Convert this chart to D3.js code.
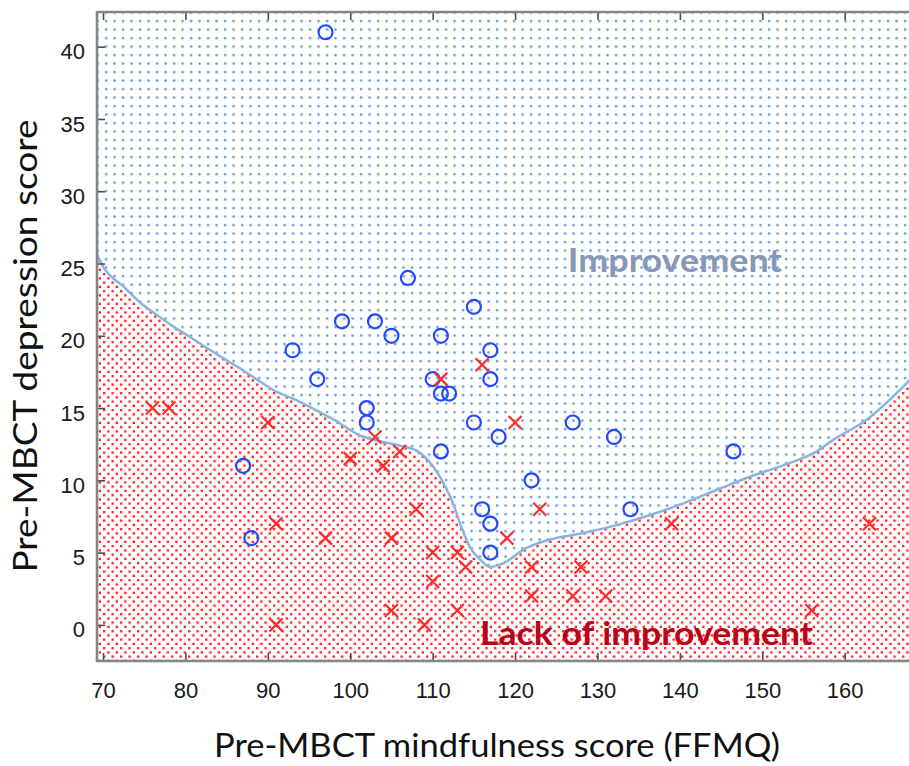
<!DOCTYPE html>
<html>
<head>
<meta charset="utf-8">
<script src="https://cdn.jsdelivr.net/npm/d3@7"></script>
<style>
  html, body { margin: 0; padding: 0; background: #fff; }
  svg { display: block; }
</style>
</head>
<body>
<svg id="chart" width="909" height="766"></svg>
<script>
// pre-MBCT scores
// improved participants (blue circles): [FFMQ, depression]
const improved = [
  [97, 41], [107, 24], [115, 22], [99, 21], [103, 21], [105, 20], [111, 20],
  [93, 19], [117, 19], [96, 17], [110, 17], [117, 17], [111, 16], [112, 16],
  [102, 15], [102, 14], [115, 14], [127, 14], [132, 13], [118, 13], [111, 12],
  [146.5, 12], [87, 11], [122, 10], [116, 8], [134, 8], [117, 7], [88, 6], [117, 5]
]

// not improved (red crosses)
const notImproved = [
  [76, 15], [78, 15], [90, 14], [103, 13], [111, 17], [116, 18], [120, 14],
  [100, 11.5], [106, 12], [104, 11], [91, 7], [97, 6], [105, 6], [108, 8],
  [110, 5], [113, 5], [114, 4], [110, 3], [105, 1], [109, 0], [113, 1], [91, 0],
  [119, 6], [123, 8], [122, 4], [128, 4], [122, 2], [127, 2], [131, 2],
  [139, 7], [163, 7], [156, 1]
]

// classifier decision boundary
const boundary = [
  [69.3, 25.6], [70.0, 24.8], [72.5, 23.4], [74.5, 22.3], [76.5, 21.45],
  [78.5, 20.65], [80.6, 19.9], [82.6, 19.15], [84.6, 18.45], [86.6, 17.75],
  [88.6, 17.0], [90.5, 16.3], [94.0, 15.4], [98.0, 14.2], [101.2, 13.1],
  [103.6, 12.7], [106.0, 12.4], [108.2, 12.0], [110.0, 11.0], [111.3, 9.8],
  [112.3, 8.65], [113.3, 7.05], [114.5, 5.4], [115.8, 4.5], [117.0, 4.0],
  [119.0, 4.4], [121.0, 5.2], [124.2, 5.9], [128.3, 6.35], [132.3, 6.9],
  [136.4, 7.6], [140.4, 8.4], [144.5, 9.35], [148.5, 10.25], [152.6, 11.05],
  [156.6, 12.0], [158.6, 12.8], [162.7, 14.2], [166.7, 16.25], [168.0, 17.0]
]

const xTicks = [70, 80, 90, 100, 110, 120, 130, 140, 150, 160]
const yTicks = [0, 5, 10, 15, 20, 25, 30, 35, 40]

const xTitle = 'Pre-MBCT mindfulness score (FFMQ)'
const yTitle = 'Pre-MBCT depression score'

const plotL = 97, plotT = 12, plotR = 909, plotB = 661

const x = d3.scaleLinear().domain([69.27, 167.8]).range([plotL, plotR])
const y = d3.scaleLinear().domain([-2.5, 42.4]).range([plotB, plotT])

const svg = d3.select('#chart')
const defs = svg.append('defs')

defs.append('clipPath').attr('id', 'plotClip')
  .append('rect')
  .attr('x', plotL).attr('y', plotT)
  .attr('width', plotR - plotL).attr('height', plotB - plotT)

const blueDots = defs.append('pattern')
  .attr('id', 'blueDots')
  .attr('patternUnits', 'userSpaceOnUse')
  .attr('width', 8.5).attr('height', 8.5)
blueDots.append('rect').attr('width', 8.5).attr('height', 8.5).attr('fill', '#fff')
blueDots.append('rect').attr('x', 3).attr('y', 3).attr('width', 2.2).attr('height', 2.2)
  .attr('fill', '#4690d6')

const redDots = defs.append('pattern')
  .attr('id', 'redDots')
  .attr('patternUnits', 'userSpaceOnUse')
  .attr('width', 8.5).attr('height', 8.5)
redDots.append('rect').attr('width', 8.5).attr('height', 8.5).attr('fill', '#fff')
redDots.append('rect').attr('x', 1).attr('y', 1).attr('width', 2.3).attr('height', 2.3)
  .attr('fill', '#ff1414')
redDots.append('rect').attr('x', 5.25).attr('y', 5.25).attr('width', 2.3).attr('height', 2.3)
  .attr('fill', '#ff1414')

const plot = svg.append('g').attr('clip-path', 'url(#plotClip)')

// improvement region: whole plot
plot.append('rect')
  .attr('x', plotL).attr('y', plotT)
  .attr('width', plotR - plotL).attr('height', plotB - plotT)
  .attr('fill', 'url(#blueDots)')

// lack of improvement region: under the boundary
const area = d3.area()
  .x(d => x(d[0]))
  .y0(plotB + 5)
  .y1(d => y(d[1]))
  .curve(d3.curveMonotoneX)

plot.append('path')
  .datum(boundary)
  .attr('d', area)
  .attr('fill', 'url(#redDots)')

const line = d3.line()
  .x(d => x(d[0]))
  .y(d => y(d[1]))
  .curve(d3.curveMonotoneX)

plot.append('path')
  .datum(boundary)
  .attr('d', line)
  .attr('fill', 'none')
  .attr('stroke', '#86b6df')
  .attr('stroke-width', 2.5)

// region labels
svg.append('text')
  .attr('x', x(126.4)).attr('y', y(24.4))
  .attr('font-family', 'Lato, "Open Sans", sans-serif')
  .attr('font-weight', 'bold')
  .attr('font-size', 33)
  .attr('textLength', 214)
  .attr('lengthAdjust', 'spacingAndGlyphs')
  .attr('fill', '#8797b5')
  .text('Improvement')

svg.append('text')
  .attr('x', x(115.75)).attr('y', y(-1.38))
  .attr('font-family', 'Lato, "Open Sans", sans-serif')
  .attr('font-weight', 'bold')
  .attr('font-size', 33)
  .attr('textLength', 333)
  .attr('lengthAdjust', 'spacingAndGlyphs')
  .attr('fill', '#bb0018')
  .text('Lack of improvement')

// markers
plot.append('g')
  .selectAll('circle')
  .data(improved)
  .enter()
  .append('circle')
  .attr('cx', d => x(d[0]))
  .attr('cy', d => y(d[1]))
  .attr('r', 7)
  .attr('fill', 'none')
  .attr('stroke', '#2448ff')
  .attr('stroke-width', 2.2)

const s = 6.5
plot.append('g')
  .selectAll('path')
  .data(notImproved)
  .enter()
  .append('path')
  .attr('d', d => {
    const cx = x(d[0]), cy = y(d[1])
    return `M${cx - s},${cy - s}L${cx + s},${cy + s}M${cx - s},${cy + s}L${cx + s},${cy - s}`
  })
  .attr('stroke', '#ff2a2a')
  .attr('stroke-width', 2.2)
  .attr('fill', 'none')

// axes, ticks pointing inward
const axisFont = '"Liberation Sans", Arial, sans-serif'

const yAxis = svg.append('g')
  .attr('transform', `translate(${plotL},0)`)
  .call(d3.axisLeft(y).tickValues(yTicks).tickSizeInner(-8).tickSizeOuter(0).tickPadding(12))
yAxis.selectAll('text')
  .attr('font-family', axisFont).attr('font-size', 22).attr('fill', '#1a1a1a')
  .attr('transform', 'translate(0,5)')

const xAxis = svg.append('g')
  .attr('transform', `translate(0,${plotB})`)
  .call(d3.axisBottom(x).tickValues(xTicks).tickSizeInner(-8).tickSizeOuter(0).tickPadding(21))
xAxis.selectAll('text')
  .attr('font-family', axisFont).attr('font-size', 22).attr('fill', '#1a1a1a')

const xTop = svg.append('g')
  .attr('transform', `translate(0,${plotT})`)
  .call(d3.axisTop(x).tickValues(xTicks).tickSizeInner(-8).tickSizeOuter(0))
xTop.selectAll('text').remove()

svg.selectAll('.tick line').attr('stroke', '#4d4d4d').attr('stroke-width', 1.6)
svg.selectAll('.domain').remove()

// frame lines
const frame = svg.append('g').attr('stroke', '#858585').attr('stroke-width', 2.6)
frame.append('line').attr('x1', plotL).attr('x2', plotL).attr('y1', plotT - 1).attr('y2', plotB + 1)
frame.append('line').attr('x1', plotL).attr('x2', plotR).attr('y1', plotT).attr('y2', plotT)
frame.append('line').attr('x1', plotL).attr('x2', plotR).attr('y1', plotB).attr('y2', plotB)

// axis titles
svg.append('text')
  .attr('x', 497).attr('y', 757)
  .attr('text-anchor', 'middle')
  .attr('font-family', 'Lato, "Open Sans", sans-serif')
  .attr('font-size', 33)
  .attr('textLength', 566)
  .attr('lengthAdjust', 'spacingAndGlyphs')
  .attr('fill', '#111')
  .text(xTitle)

svg.append('text')
  .attr('transform', 'translate(37,346) rotate(-90)')
  .attr('text-anchor', 'middle')
  .attr('font-family', 'Lato, "Open Sans", sans-serif')
  .attr('font-size', 33)
  .attr('textLength', 453)
  .attr('lengthAdjust', 'spacingAndGlyphs')
  .attr('fill', '#111')
  .text(yTitle)
</script>
</body>
</html>
